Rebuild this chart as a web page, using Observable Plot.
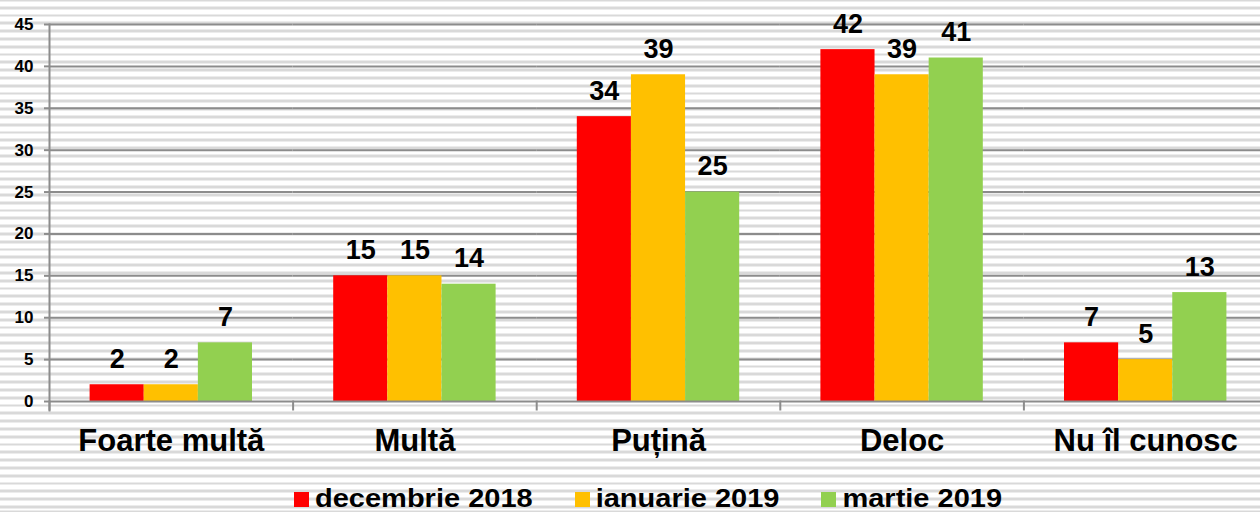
<!DOCTYPE html>
<html>
<head>
<meta charset="utf-8">
<script src="https://cdn.jsdelivr.net/npm/d3@7"></script>
<script src="https://cdn.jsdelivr.net/npm/@observablehq/plot@0.6"></script>
<style>
  html, body { margin: 0; padding: 0; }
  body {
    width: 1260px; height: 512px; overflow: hidden; position: relative;
    font-family: "Liberation Sans", Arial, sans-serif;
    background-color: #fff;
    background-image: repeating-linear-gradient(to bottom, #d9d9d9 0px, #d9d9d9 2.8px, #ffffff 2.8px, #ffffff 7.8px);
    background-position: 0 -1.5px;
  }
  #chart { width: 1260px; height: 470px; overflow: hidden; position: absolute; left: 0; top: 0; }
  #legend {
    position: absolute; left: 294px; top: 486px; height: 24px;
    display: flex; align-items: center; gap: 42px;
  }
  .item { display: flex; align-items: center; gap: 6px; }
  .sw { width: 15px; height: 15px; margin-top: 3px; }
  .lab { font-weight: bold; font-size: 29px; line-height: 22px; height: 22px; color: #000; transform: scaleY(0.88); transform-origin: 50% 70%; }
</style>
</head>
<body>
<div id="chart"></div>
<div id="legend"></div>
<script>
const categories = ["Foarte multă", "Multă", "Puțină", "Deloc", "Nu îl cunosc"];
const series = ["decembrie 2018", "ianuarie 2019", "martie 2019"];
const dec2018 = [2, 15, 34, 42, 7];
const ian2019 = [2, 15, 39, 39, 5];
const mar2019 = [7, 14, 25, 41, 13];
const colors = ["#ff0000", "#ffc000", "#92d050"];
const yTicks = [0, 5, 10, 15, 20, 25, 30, 35, 40, 45];

const seriesValues = [dec2018, ian2019, mar2019];
const data = [];
categories.forEach((c, i) => {
  series.forEach((s, j) => {
    data.push({category: c, series: s, value: seriesValues[j][i]});
  });
});

const gridColor = "#8c8c8c";

const chart = Plot.plot({
  width: 1267,
  height: 470,
  marginLeft: 49,
  marginRight: 0,
  marginTop: 24,
  marginBottom: 69,
  style: {background: "transparent", maxWidth: "none", overflow: "visible", fontFamily: "Liberation Sans, Arial, sans-serif", color: "#000"},
  fx: {domain: categories, padding: 0, round: false, label: null},
  x: {domain: series, paddingInner: 0, paddingOuter: 0.75, round: false, axis: null},
  y: {domain: [0, 45], label: null},
  color: {domain: series, range: colors},
  marks: [
    Plot.gridY(yTicks.filter(d => d > 0), {stroke: gridColor, strokeOpacity: 1, strokeWidth: 2}),
    Plot.barY(data, {fx: "category", x: "series", y: "value", fill: "series", inset: 0}),
    Plot.ruleY([0], {stroke: gridColor, strokeWidth: 2}),
    Plot.frame({anchor: "left", stroke: gridColor, strokeWidth: 2, insetTop: 377, insetBottom: -8}),
    Plot.frame({anchor: "left", stroke: gridColor, strokeWidth: 2, insetBottom: -9, facetAnchor: "left"}),
    Plot.axisY({ticks: yTicks, tickSize: 5, tickPadding: 11, fontSize: 17, fontWeight: "bold", stroke: gridColor, strokeWidth: 2, label: null, fill: "#000"}),
    Plot.axisFx({anchor: "bottom", tickSize: 0, tickPadding: 27, fontSize: 31, fontWeight: "bold", label: null, fill: "#000"}),
    Plot.text(data, {fx: "category", x: "series", y: "value", text: d => String(d.value), dy: -17, lineAnchor: "bottom", fontSize: 27, fontWeight: "bold", fill: "#000"})
  ]
});
document.getElementById("chart").appendChild(chart);

const legend = document.getElementById("legend");
series.forEach((s, i) => {
  const item = document.createElement("div");
  item.className = "item";
  const sw = document.createElement("div");
  sw.className = "sw";
  sw.style.background = colors[i];
  const lab = document.createElement("div");
  lab.className = "lab";
  lab.textContent = s;
  item.appendChild(sw);
  item.appendChild(lab);
  legend.appendChild(item);
});
</script>
</body>
</html>
